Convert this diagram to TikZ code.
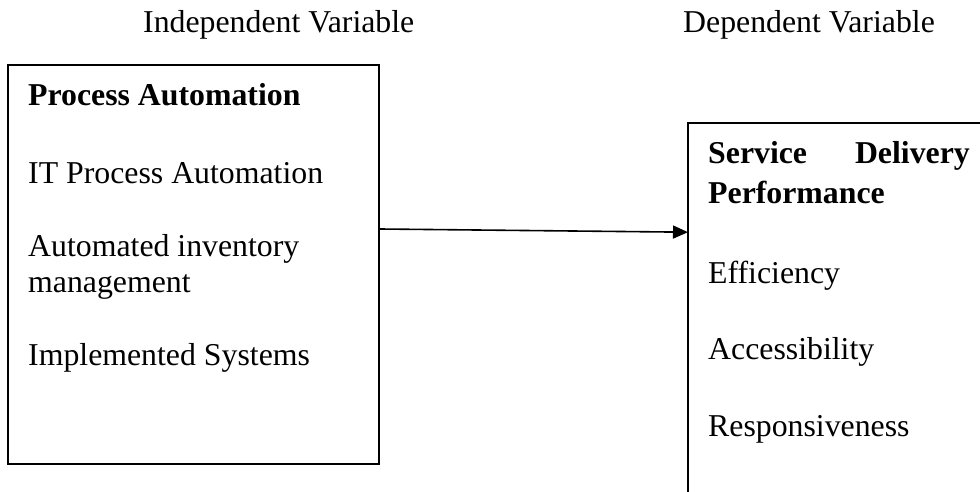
\documentclass[tikz,border=0pt]{standalone}
\usepackage{fontspec}
\setmainfont{Liberation Serif}
\usetikzlibrary{arrows.meta,calc}
\begin{document}
\begin{tikzpicture}[x=1pt,y=-1pt,
  box/.style={draw, line width=2pt, inner sep=0pt, outer sep=0pt},
  txt/.style={font=\fontsize{31.8}{36}\selectfont, inner sep=0pt, anchor=base west},
  hd/.style={txt, font=\fontsize{31.8}{36}\selectfont\bfseries},
  link/.style={line width=1.6pt, -{Triangle[length=15pt,width=13pt]}}
]
\useasboundingbox (0,0) rectangle (980,492);
\clip (0,0) rectangle (980,492);
\node[box, minimum width=371pt, minimum height=399pt] (L) at (193.5,264.5) {};
\node[box, minimum width=320pt, minimum height=400pt, anchor=north west] (R) at (688,123) {};
\node[txt] (ih) at (143,33) {Independent Variable};
\node[txt] (dh) at (683,33) {Dependent Variable};
\node[hd] (l1) at (28,106) {Process Automation};
\node[txt] (l2) at (28,183) {IT Process Automation};
\node[txt] (l3) at (28,256) {Automated inventory};
\node[txt] (l4) at (28,292) {management};
\node[txt] (l5) at (28,365) {Implemented Systems};
\node[hd] (r1) at (708,164) {Service};
\node[hd, anchor=base east] (r2) at (970,164) {Delivery};
\node[hd] (r3) at (708,203) {Performance};
\node[txt] (r4) at (708,283) {Efficiency};
\node[txt] (r5) at (708,359) {Accessibility};
\node[txt] (r6) at (708,436) {Responsiveness};
\draw[link] ($(L.north east)!0.411!(L.south east)$) -- ($(R.north west)!0.273!(R.south west)$);
\end{tikzpicture}
\end{document}
